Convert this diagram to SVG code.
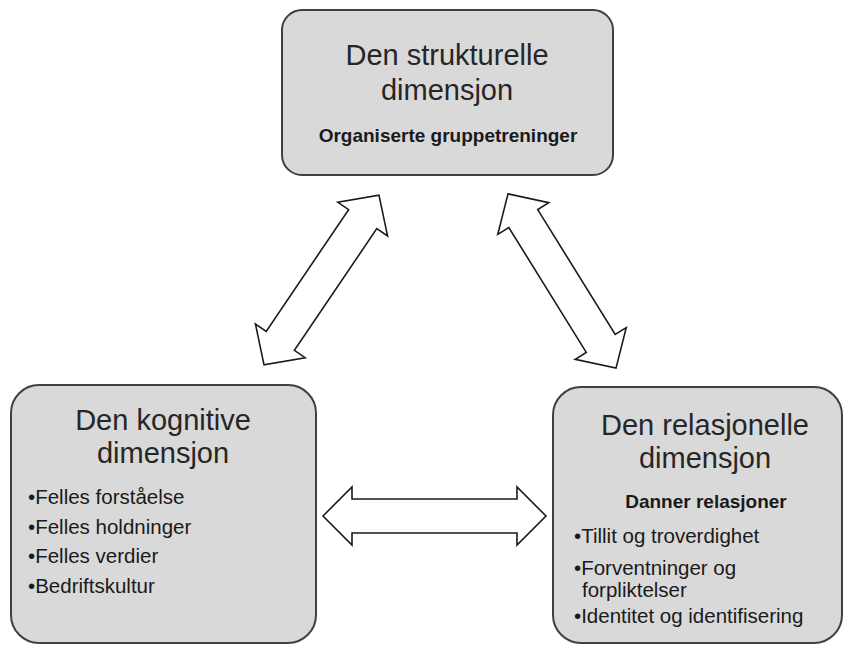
<svg xmlns="http://www.w3.org/2000/svg" width="844" height="645" viewBox="0 0 844 645">
<style>
.box{fill:#d9d9d9;stroke:#404040;stroke-width:2}
.arrow{fill:#ffffff;stroke:#1a1a1a;stroke-width:1.6;stroke-linejoin:miter}
.title{font-family:"Liberation Sans",Arial,sans-serif;font-size:29px;fill:#262626;text-anchor:middle}
.sub{font-family:"Liberation Sans",Arial,sans-serif;font-size:19px;font-weight:bold;fill:#1a1a1a;text-anchor:middle}
.item{font-family:"Liberation Sans",Arial,sans-serif;font-size:20.5px;fill:#1a1a1a}
</style>
<defs>
<path id="dbl-diag" d="M-102.5,0 L-73.5,-30 L-73.5,-17 L73.5,-17 L73.5,-30 L102.5,0 L73.5,30 L73.5,17 L-73.5,17 L-73.5,30 Z"/>
</defs>
<rect width="844" height="645" fill="#ffffff"/>
<g id="connectors">
<use href="#dbl-diag" class="arrow" transform="translate(321.5,280) rotate(-55.9)"/>
<use href="#dbl-diag" class="arrow" transform="translate(562,281) rotate(58.2)"/>
<path class="arrow" d="M323,516 L352,487 L352,499 L517,499 L517,487 L546,516 L517,545 L517,533 L352,533 L352,545 Z"/>
</g>
<g id="node-strukturelle">
<rect class="box" x="282" y="10" width="331" height="165" rx="20" ry="20"/>
<text class="title" x="447" y="65">Den strukturelle</text>
<text class="title" x="447" y="100">dimensjon</text>
<text class="sub" x="448" y="142">Organiserte gruppetreninger</text>
</g>
<g id="node-kognitive">
<rect class="box" x="11" y="385" width="305" height="258" rx="28" ry="28"/>
<text class="title" x="163" y="430">Den kognitive</text>
<text class="title" x="163" y="463">dimensjon</text>
<text class="item" x="28" y="504">•Felles forståelse</text>
<text class="item" x="28" y="534">•Felles holdninger</text>
<text class="item" x="28" y="563">•Felles verdier</text>
<text class="item" x="28" y="593">•Bedriftskultur</text>
</g>
<g id="node-relasjonelle">
<rect class="box" x="553" y="387" width="289" height="256" rx="28" ry="28"/>
<text class="title" x="705" y="435">Den relasjonelle</text>
<text class="title" x="705" y="468">dimensjon</text>
<text class="sub" x="706" y="508">Danner relasjoner</text>
<text class="item" x="574" y="543">•Tillit og troverdighet</text>
<text class="item" x="574" y="575">•Forventninger og</text>
<text class="item" x="582" y="597">forpliktelser</text>
<text class="item" x="574" y="623">•Identitet og identifisering</text>
</g>
</svg>
